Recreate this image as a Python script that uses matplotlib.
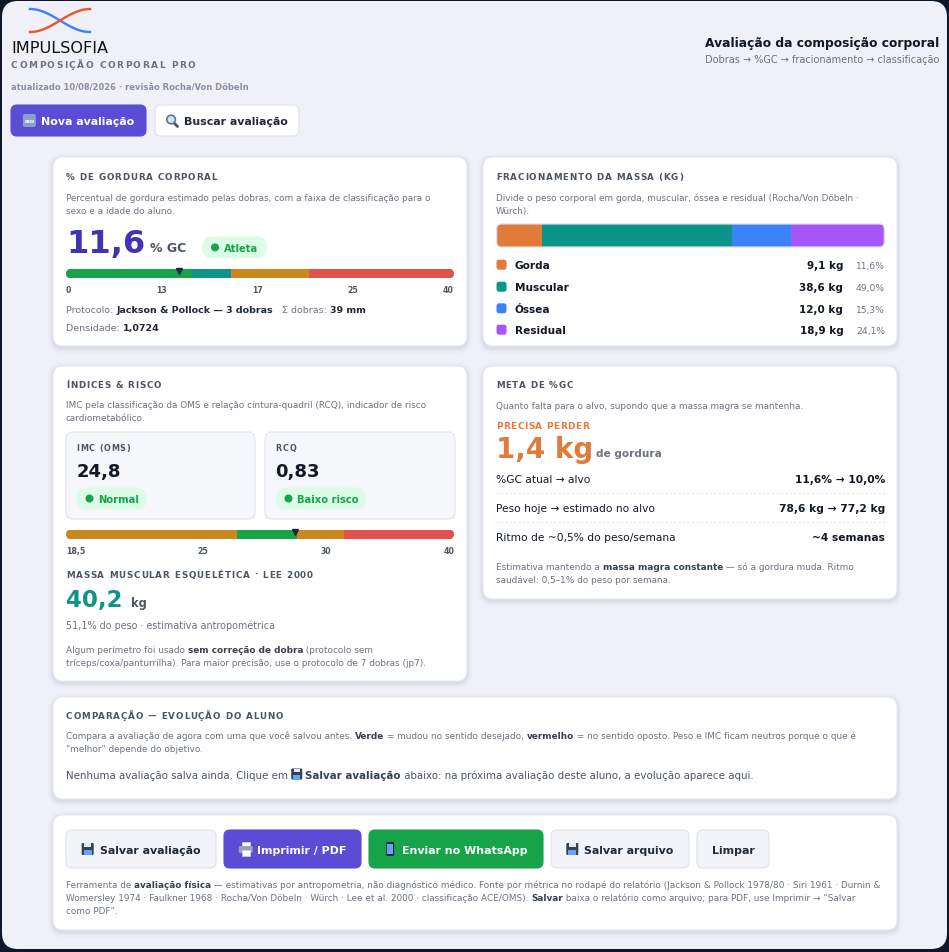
import numpy as np
import matplotlib
matplotlib.use('Agg')
import matplotlib.pyplot as plt
from matplotlib.patches import FancyBboxPatch, Rectangle, Circle
from matplotlib.font_manager import FontProperties

W, H = 949, 953

# ---- values ----
gc_value = 11.6
gc_edges = [0, 13, 17, 25, 40]
gc_colors = ['#16a34a', '#0f9488', '#c9891f', '#e0534a']
gc_ticks = ['0', '13', '17', '25', '40']
gc_class = 'Atleta'
sum_folds = 39
density = 1.0724

mass_labels = ['Gorda', 'Muscular', 'Óssea', 'Residual']
mass_kg = [9.1, 38.6, 12.0, 18.9]
mass_pct = [11.6, 49.0, 15.3, 24.1]
mass_colors = ['#e07b39', '#0d9488', '#3b82f6', '#a855f7']

imc_value = 24.8
imc_class = 'Normal'
rcq_value = 0.83
rcq_class = 'Baixo risco'
imc_edges = [0.2, 18.5, 25, 30, 41.8]
imc_colors = ['#c9891f', '#16a34a', '#c9891f', '#e0534a']
imc_ticks = ['18,5', '25', '30', '40']

smm_kg = 40.2
smm_pct = 51.1

loss_kg = 1.4
gc_target = 10.0
weight_now = 78.6
weight_target = 77.2
weeks = 4

DARK = '#111827'
GRAY = '#6b7280'
TITLE = '#4b5563'
EM = 100 / 72
DESC = 6.38


def fmt(v, d=1):
    return f"{v:.{d}f}".replace('.', ',')


fig = plt.figure(figsize=(W / 100, H / 100), dpi=100, facecolor='#0f172a')
ax = fig.add_axes([0, 0, 1, 1])
ax.set_zorder(-1)
ax.set_xlim(0, W)
ax.set_ylim(H, 0)
ax.axis('off')
R = fig.canvas.get_renderer()


def rw(s, size, weight='normal'):
    p = FontProperties(family='DejaVu Sans', size=size, weight=weight)
    return R.get_text_width_height_descent(s, p, ismath=False)[0]


def tw(s, size, weight='normal'):
    return rw(s + '|', size, weight) - rw('|', size, weight)


def rbox(x0, y0, x1, y1, r, fc, ec='none', lw=0, z=1, alpha=1):
    p = FancyBboxPatch((x0, y0), x1 - x0, y1 - y0,
                       boxstyle=f"round,pad=0,rounding_size={r}",
                       fc=fc, ec=ec, lw=lw, zorder=z, alpha=alpha)
    ax.add_patch(p)
    return p


def T(x, cy, s, size, weight='normal', color=DARK, ha='left', base=None):
    y = base if base is not None else cy + 0.36 * size * EM
    ax.text(x, y, s, fontsize=size, fontweight=weight, color=color,
            ha=ha, va='baseline', zorder=6)


def rich(x, cy, parts, size, ha='left'):
    total = sum(tw(s, size, w) for s, w, c in parts)
    if ha == 'right':
        x -= total
    for s, w, c in parts:
        T(x, cy, s, size, w, c)
        x += tw(s, size, w)
    return x


def spaced(x, cy, s, size, color, width, weight='bold'):
    # letter-spaced caps; spacing chosen so the line ends where it should
    sp = (width - rw(s, size, weight)) / (len(s) - 1)
    for i, ch in enumerate(s):
        if ch != ' ':
            off = rw(s[:i + 1], size, weight) - rw(ch, size, weight)
            T(x + off + i * sp, cy, ch, size, weight, color)


def card(x0, y0, x1, y1):
    for k, a in [(5, 0.02), (3, 0.03), (1.5, 0.045)]:
        rbox(x0 - k, y0 - k + 2, x1 + k, y1 + k + 2, 10 + k, '#27315a', z=1, alpha=a)
    rbox(x0, y0, x1, y1, 10, 'white', '#e3e6ef', 0.6, z=2)


def pill(x0, x1, cy, label, h=22):
    rbox(x0, cy - h / 2, x1, cy + h / 2, h / 2, '#dcfce7', z=4)
    ax.add_patch(Circle((x0 + 13, cy), 3.3, color='#16a34a', zorder=5))
    T(x0 + 22, cy, label, 7.2, 'bold', '#16a34a')


def inset(x0, y0, x1, y1):
    a = fig.add_axes([x0 / W, 1 - y1 / H, (x1 - x0) / W, (y1 - y0) / H])
    a.axis('off')
    return a


def clip_shape(x0, y0, x1, y1, r):
    return FancyBboxPatch((x0, y0), x1 - x0, y1 - y0,
                          boxstyle=f"round,pad=0,rounding_size={r}",
                          transform=ax.transData)


def gauge(x0, y0, x1, y1, edges, colors, value, ticks, ty):
    clip = clip_shape(x0, y0, x1, y1, (y1 - y0) / 2)
    g = inset(x0, y0, x1, y1)
    g.set_xlim(edges[0], edges[-1])
    g.set_ylim(0, 1)
    bars = g.barh(0.5, np.diff(edges), left=edges[:-1], height=1,
                  color=colors, linewidth=0)
    for b in bars:
        b.set_clip_path(clip)
    g.plot([value], [0.8], marker='v', ms=4.5, color='#1f2937',
           clip_on=False, zorder=5)
    # labels spread like "space-between"
    ws = [tw(t, 5.6, 'bold') for t in ticks]
    gap = (x1 - x0 - sum(ws)) / (len(ticks) - 1)
    x = x0
    for t, w in zip(ticks, ws):
        T(x, ty, t, 5.6, 'bold', TITLE)
        x += w + gap


# ---- little icons (emoji stand-ins) ----
def icon_new(x, cy):
    rbox(x, cy - 6.5, x + 13, cy + 6.5, 2, '#8aa0c6', z=5)
    ax.text(x + 6.5, cy + 0.3, 'NEW', fontsize=2.8, fontweight='bold',
            color='white', ha='center', va='center', zorder=6)


def icon_search(x, cy):
    ax.plot([x + 7, x + 11.5], [cy + 1.5, cy + 6], color='#475569', lw=2,
            solid_capstyle='round', zorder=5)
    ax.add_patch(Circle((x + 5, cy - 1), 4.3, fc='#cfe6f7', ec='#64748b',
                        lw=1.2, zorder=6))


def icon_floppy(x, cy, s=12):
    rbox(x, cy - s / 2, x + s, cy + s / 2, 1.2, '#334155', z=5)
    ax.add_patch(Rectangle((x + 2.5, cy - s / 2), s - 5, s * 0.35,
                           fc='#e2e8f0', zorder=6))
    ax.add_patch(Rectangle((x + 2, cy + s * 0.1), s - 4, s * 0.4,
                           fc='#60a5fa', zorder=6))


def icon_printer(x, cy):
    ax.add_patch(Rectangle((x + 3, cy - 7), 8, 5, fc='white', ec='#cbd5e1',
                           lw=0.6, zorder=5))
    rbox(x, cy - 3, x + 14, cy + 4, 1.5, '#94a3b8', z=6)
    ax.add_patch(Rectangle((x + 3, cy + 1), 8, 6, fc='white', ec='#cbd5e1',
                           lw=0.6, zorder=7))


def icon_phone(x, cy):
    rbox(x + 2, cy - 7, x + 10, cy + 7, 1.5, '#1f2937', z=5)
    ax.add_patch(Rectangle((x + 3.2, cy - 5), 5.6, 9.5, fc='#60a5fa', zorder=6))


def button(x0, x1, y0, y1, label, fc, ec, tc, icon=None, size=7.9):
    rbox(x0, y0, x1, y1, 6, fc, ec, 0.8, z=3)
    cy = (y0 + y1) / 2
    wt = tw(label, size, 'bold')
    wi = 18 if icon else 0
    x = (x0 + x1) / 2 - (wt + wi) / 2
    if icon:
        icon(x, cy)
    T(x + wi, cy, label, size, 'bold', tc)


# ---- page ----
rbox(2, 2, 947, 950, 16, '#eff0f8', z=0)

# logo
t = np.linspace(0, 1, 60)
ax.plot(30 + 60 * t, 21.5 - 11.5 * np.cos(np.pi * t), color='#3b82f6', lw=1.7, zorder=4)
ax.plot(30 + 60 * t, 21.5 + 11.5 * np.cos(np.pi * t), color='#f0502a', lw=1.7, zorder=4)
T(11, 47.5, 'IMPULSOFIA', 11.6, 'normal', '#111111')
spaced(11, 64.3, 'COMPOSIÇÃO CORPORAL PRO', 6.5, '#6b7280', 184)
T(11, 86, 'atualizado 10/08/2026 · revisão Rocha/Von Döbeln', 6.0, 'bold', '#8a90a2')

button(11, 146, 106, 137, 'Nova avaliação', '#5b4cd6', '#5b4cd6', 'white', icon_new)
button(155, 299, 106, 137, 'Buscar avaliação', 'white', '#dfe2ec', '#1f2937', icon_search)

T(939, 42.5, 'Avaliação da composição corporal', 8.8, 'bold', DARK, ha='right')
T(939, 59.5, 'Dobras → %GC → fracionamento → classificação', 7.0, 'normal', GRAY, ha='right')

# ---- card 1: % gordura ----
card(53, 158, 467, 347)
spaced(66, 176.7, '% DE GORDURA CORPORAL', 6.3, TITLE, 151)
T(66, 197.5, 'Percentual de gordura estimado pelas dobras, com a faixa de classificação para o', DESC, color=GRAY)
T(66, 210.5, 'sexo e a idade do aluno.', DESC, color=GRAY)
T(66, 0, fmt(gc_value), 23, 'bold', '#4034b4', base=253.3)
T(150, 0, '% GC', 9, 'bold', TITLE, base=252.3)
pill(202, 267, 248.4, gc_class)
gauge(66, 270, 454, 279.3, gc_edges, gc_colors, gc_value, gc_ticks, 290.5)
rich(66, 310, [('Protocolo: ', 'normal', GRAY), ('Jackson & Pollock — 3 dobras', 'bold', '#1f2937'),
               ('   Σ dobras: ', 'normal', GRAY), (f'{sum_folds} mm', 'bold', '#1f2937')], 6.8)
rich(66, 327.3, [('Densidade: ', 'normal', GRAY), (fmt(density, 4), 'bold', '#1f2937')], 6.8)

# ---- card 2: fracionamento ----
card(483, 158, 897, 347)
spaced(496, 176.7, 'FRACIONAMENTO DA MASSA (KG)', 6.3, TITLE, 187)
T(496, 197.5, 'Divide o peso corporal em gorda, muscular, óssea e residual (Rocha/Von Döbeln ·', DESC, color=GRAY)
T(496, 210.5, 'Würch).', DESC, color=GRAY)

mx0, my0, mx1, my1 = 496.7, 225, 884.3, 248
mclip = clip_shape(mx0, my0, mx1, my1, 5)
m = inset(mx0, my0, mx1, my1)
m.set_xlim(0, sum(mass_kg))
m.set_ylim(0, 1)
lefts = np.concatenate([[0], np.cumsum(mass_kg)[:-1]])
for b in m.barh(0.5, mass_kg, left=lefts, height=1, color=mass_colors, linewidth=0):
    b.set_clip_path(mclip)
edge = FancyBboxPatch((mx0, my0), mx1 - mx0, my1 - my0, boxstyle="round,pad=0,rounding_size=5",
                      fc='none', ec='#d9dce8', lw=0.9, transform=ax.transData, clip_on=False)
m.add_artist(edge)

row_y = [265.7, 287.7, 309.3, 330.7]
for lab, kg, pc, col, cy in zip(mass_labels, mass_kg, mass_pct, mass_colors, row_y):
    rbox(496.5, cy - 5, 506.5, cy + 5, 2.5, col, z=4)
    T(515, cy, lab, 7.6, 'bold', DARK)
    T(843.3, cy, f'{fmt(kg)} kg', 7.5, 'bold', DARK, ha='right')
    T(885, cy, f'{fmt(pc)}%', 6.6, 'normal', GRAY, ha='right')

# ---- card 3: indices ----
card(53, 367, 467, 682)
spaced(66, 385, 'ÍNDICES & RISCO', 6.3, TITLE, 95)
T(66, 405.3, 'IMC pela classificação da OMS e relação cintura-quadril (RCQ), indicador de risco', DESC, color=GRAY)
T(66, 418.3, 'cardiometabólico.', DESC, color=GRAY)

for bx0, bx1, name, nw, val, cls, pw in [(66, 255, 'IMC (OMS)', 53.7, fmt(imc_value), imc_class, 70.4),
                                         (265, 455, 'RCQ', 20.7, fmt(rcq_value, 2), rcq_class, 90.7)]:
    rbox(bx0, 433, bx1, 520, 7, '#f6f7fb', '#e1e4ee', 0.8, z=3)
    spaced(bx0 + 10.5, 448.3, name, 5.8, TITLE, nw)
    T(bx0 + 10.5, 0, val, 13, 'bold', DARK, base=477.5)
    pill(bx0 + 10.5, bx0 + 10.5 + pw, 499.5, cls)

gauge(66, 530.7, 454, 540, imc_edges, imc_colors, imc_value, imc_ticks, 551)

spaced(66, 575, 'MASSA MUSCULAR ESQUELÉTICA · LEE 2000', 6.3, TITLE, 247)
T(66, 0, fmt(smm_kg), 16.5, 'bold', '#0d9488', base=607.3)
T(130.7, 0, 'kg', 8.3, 'bold', TITLE, base=607.3)
T(66, 625.7, f'{fmt(smm_pct)}% do peso · estimativa antropométrica', 6.9, color=GRAY)
rich(66, 649.7, [('Algum perímetro foi usado ', 'normal', GRAY), ('sem correção de dobra', 'bold', '#374151'),
                 (' (protocolo sem', 'normal', GRAY)], 6.4)
T(66, 662.7, 'tríceps/coxa/panturrilha). Para maior precisão, use o protocolo de 7 dobras (jp7).', 6.4, color=GRAY)

# ---- card 4: meta ----
card(483, 367, 897, 600)
spaced(496, 385, 'META DE %GC', 6.3, TITLE, 77)
T(496, 406.3, 'Quanto falta para o alvo, supondo que a massa magra se mantenha.', DESC, color=GRAY)
spaced(496, 426, 'PRECISA PERDER', 6.5, '#e07b39', 93)
T(496, 0, f'{fmt(loss_kg)} kg', 20, 'bold', '#e07b39', base=458.3)
T(596, 0, 'de gordura', 7.6, 'bold', GRAY, base=457.5)

meta_left = ['%GC atual → alvo', 'Peso hoje → estimado no alvo', 'Ritmo de ~0,5% do peso/semana']
meta_right = [f'{fmt(gc_value)}% → {fmt(gc_target)}%',
              f'{fmt(weight_now)} kg → {fmt(weight_target)} kg',
              f'~{weeks} semanas']
for l, r, cy in zip(meta_left, meta_right, [479.3, 508, 537]):
    T(496, cy, l, 7.7, 'normal', DARK)
    T(885, cy, r, 7.7, 'bold', DARK, ha='right')
for yy in [493.5, 522.5]:
    ax.plot([496, 885], [yy, yy], color='#e3e5ec', lw=0.8, ls=(0, (2, 2)), zorder=4)
rich(496, 567.3, [('Estimativa mantendo a ', 'normal', GRAY), ('massa magra constante', 'bold', '#374151'),
                  (' — só a gordura muda. Ritmo', 'normal', GRAY)], 6.4)
T(496, 580.3, 'saudável: 0,5–1% do peso por semana.', 6.4, color=GRAY)

# ---- card 5: comparação ----
card(53, 698, 897, 800)
spaced(66, 716, 'COMPARAÇÃO — EVOLUÇÃO DO ALUNO', 6.3, TITLE, 217)
rich(66, 736, [('Compara a avaliação de agora com uma que você salvou antes. ', 'normal', GRAY),
               ('Verde', 'bold', '#374151'), (' = mudou no sentido desejado, ', 'normal', GRAY),
               ('vermelho', 'bold', '#374151'),
               (' = no sentido oposto. Peso e IMC ficam neutros porque o que é', 'normal', GRAY)], DESC)
T(66, 749, '"melhor" depende do objetivo.', DESC, color=GRAY)
x = rich(66, 775, [('Nenhuma avaliação salva ainda. Clique em ', 'normal', TITLE)], 7.35)
icon_floppy(x, 775, 11)
rich(x + 14, 775, [('Salvar avaliação', 'bold', '#374151'),
                   (' abaixo: na próxima avaliação deste aluno, a evolução aparece aqui.', 'normal', TITLE)], 7.35)

# ---- card 6: ações ----
card(53, 816, 897, 931)
button(66, 216, 831, 869, 'Salvar avaliação', '#f3f4fa', '#dfe2ec', '#1f2937', icon_floppy)
button(224, 361, 831, 869, 'Imprimir / PDF', '#5b4cd6', '#5b4cd6', 'white', icon_printer)
button(369, 543, 831, 869, 'Enviar no WhatsApp', '#16a34a', '#16a34a', 'white', icon_phone)
button(551, 689, 831, 869, 'Salvar arquivo', '#f3f4fa', '#dfe2ec', '#1f2937', icon_floppy)
button(697, 769, 831, 869, 'Limpar', '#f3f4fa', '#dfe2ec', '#1f2937')

rich(66, 885, [('Ferramenta de ', 'normal', GRAY), ('avaliação física', 'bold', '#374151'),
               (' — estimativas por antropometria, não diagnóstico médico. Fonte por métrica no rodapé do relatório '
                '(Jackson & Pollock 1978/80 · Siri 1961 · Durnin &', 'normal', GRAY)], DESC)
rich(66, 898, [('Womersley 1974 · Faulkner 1968 · Rocha/Von Döbeln · Würch · Lee et al. 2000 · classificação ACE/OMS). ',
                'normal', GRAY), ('Salvar', 'bold', '#374151'),
               (' baixa o relatório como arquivo; para PDF, use Imprimir → “Salvar', 'normal', GRAY)], DESC)
T(66, 911, 'como PDF”.', DESC, color=GRAY)

fig.savefig('out.png', dpi=100, facecolor=fig.get_facecolor())
